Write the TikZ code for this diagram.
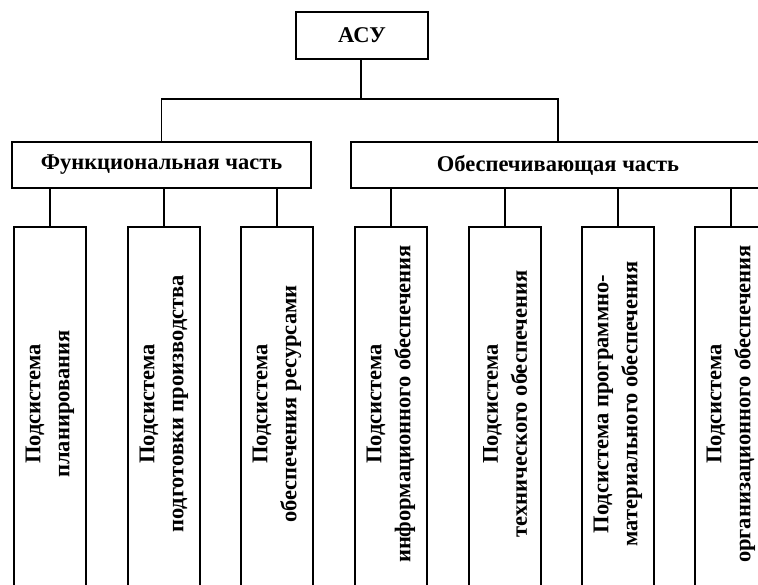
\documentclass[tikz,border=0pt]{standalone}
\usepackage{fontspec}
\setmainfont{Liberation Serif}
\begin{document}
\begin{tikzpicture}[x=1pt,y=-1pt,
  line width=1.4pt,
  box/.style={draw, rectangle, inner sep=0pt},
  lbl/.style={font=\bfseries\fontsize{22.5}{28}\selectfont, align=center, inner sep=0pt},
  vlbl/.style={font=\bfseries\fontsize{22.5}{29}\selectfont, align=center, inner sep=0pt, rotate=90},
  wire/.style={draw}]
\useasboundingbox (0,0) rectangle (758,585);
\clip (0,0) rectangle (758,585);
% top
\node[box, minimum width=132pt, minimum height=47pt] (asu) at (362,35.5) {};
\node[lbl] (asut) at (asu.center) {АСУ};
% level 1
\node[box, minimum width=299pt, minimum height=46pt] (func) at (161.5,165) {};
\node[lbl] (funct) at (func.center) {Функциональная часть};
\node[box, minimum width=414pt, minimum height=46pt] (obes) at (558,165) {};
\node[lbl] (obest) at (obes.center) {Обеспечивающая часть};
\coordinate (hub) at (361,99);
\draw[wire] (asu.south -| hub) -- (hub);
\draw[wire] (func.north) |- (hub) -| (obes.north);
% children
\foreach \n/\cx/\ta/\tb in {
  c1/50/Подсистема/планирования,
  c2/164/Подсистема/подготовки производства,
  c3/277/Подсистема/обеспечения ресурсами,
  c4/391/Подсистема/информационного обеспечения,
  c5/505/Подсистема/технического обеспечения,
  c6/618/Подсистема программно-/материального обеспечения,
  c7/731/Подсистема/организационного обеспечения}{
  \node[box, minimum width=72pt, minimum height=373pt] (\n) at (\cx,413.5) {};
  \node[vlbl] (\n t) at (\cx,404) {\ta\\\tb};
}
\foreach \n in {c1,c2,c3}{\draw[wire] (func.south -| \n.north) -- (\n.north);}
\foreach \n in {c4,c5,c6,c7}{\draw[wire] (obes.south -| \n.north) -- (\n.north);}
\end{tikzpicture}
\end{document}
